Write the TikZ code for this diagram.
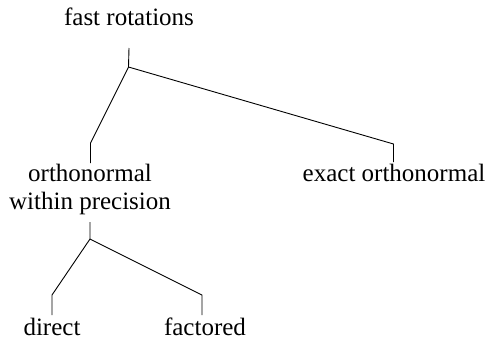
\documentclass[tikz,border=0pt]{standalone}
\usepackage{fontspec}
\setmainfont{Liberation Serif}
\begin{document}
\begin{tikzpicture}[x=1pt,y=1pt,
  lbl/.style={inner sep=0pt,anchor=base,font=\fontsize{25}{28}\selectfont},
  conn/.style={line width=0.9pt,line join=miter}]
\useasboundingbox (0,0) rectangle (489,-341);
\node[lbl] (fast) at (129,-25.5) {fast rotations};
\node[lbl] (ortho) at (90,-181) {\begin{tabular}[t]{@{}c@{}}orthonormal\\within precision\end{tabular}};
\node[lbl] (exact) at (394,-181) {exact orthonormal};
\node[lbl] (direct) at (52,-335) {direct};
\node[lbl] (factored) at (205,-335) {factored};
\coordinate (b1) at (128.5,-67);
\coordinate (k1) at (90.5,-143);
\coordinate (k2) at (393.5,-144);
\coordinate (b2) at (90,-239);
\coordinate (k3) at (52,-295);
\coordinate (k4) at (202,-295);
\draw[conn] ([yshift=-22.5pt]fast.base) -- (b1) -- (k1) -- ([yshift=18pt]k1 |- ortho.base);
\draw[conn] (b1) -- (k2) -- ([yshift=19pt]k2 |- exact.base);
\draw[conn] ([yshift=-41pt]ortho.base) -- (b2) -- (k3) -- ([yshift=20pt]k3 |- direct.base);
\draw[conn] (b2) -- (k4) -- ([yshift=20pt]k4 |- factored.base);
\end{tikzpicture}
\end{document}
